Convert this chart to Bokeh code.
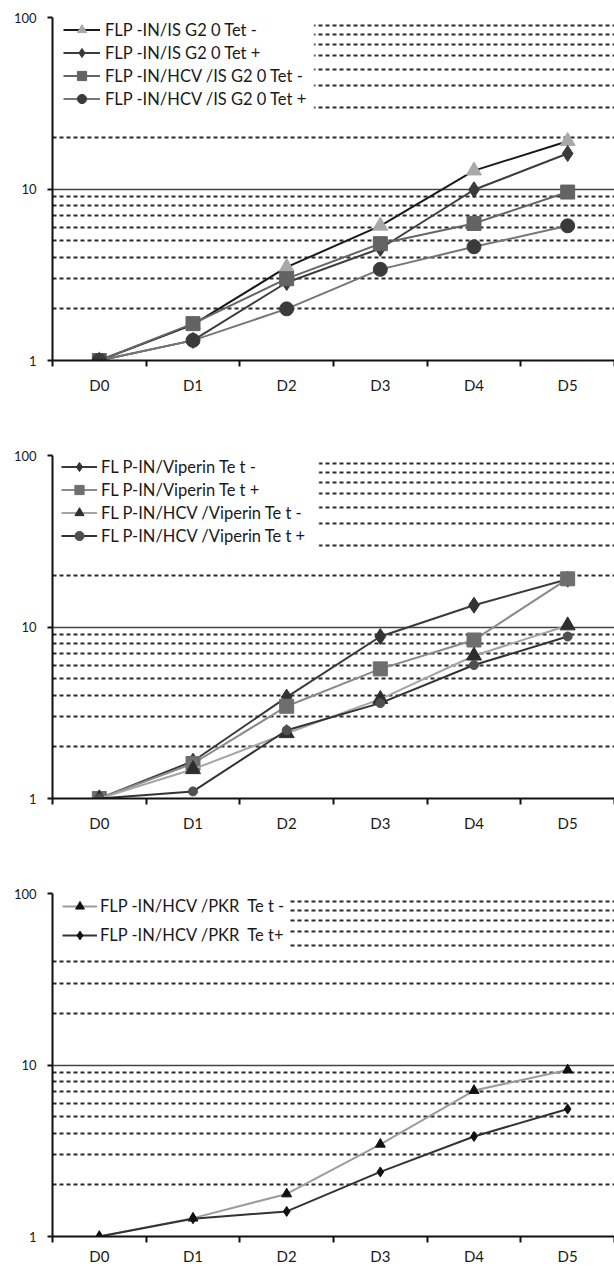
from bokeh.plotting import figure
from bokeh.models import Range1d, FixedTicker, PrintfTickFormatter, Legend, LegendItem, BoxAnnotation
from bokeh.layouts import column
from bokeh.core.properties import value
from bokeh.embed import file_html
from bokeh.resources import INLINE

# ---------------- data ----------------
days = ["D0", "D1", "D2", "D3", "D4", "D5"]
y_major = [1, 10, 100]

# panel 1 : ISG20
isg20_labels = ["FLP -IN/IS G2 0 Tet -", "FLP -IN/IS G2 0 Tet +",
                "FLP -IN/HCV /IS G2 0 Tet -", "FLP -IN/HCV /IS G2 0 Tet +"]
isg20_tet_minus = [1.0, 1.62, 3.5, 6.1, 12.8, 19.0]
isg20_tet_plus = [1.0, 1.31, 2.85, 4.5, 9.9, 16.1]
hcv_isg20_tet_minus = [1.0, 1.64, 3.0, 4.8, 6.3, 9.6]
hcv_isg20_tet_plus = [1.0, 1.31, 2.0, 3.4, 4.6, 6.1]

# panel 2 : Viperin
viperin_labels = ["FL P-IN/Viperin Te t -", "FL P-IN/Viperin Te t +",
                  "FL P-IN/HCV /Viperin Te t -", "FL P-IN/HCV /Viperin Te t +"]
viperin_tet_minus = [1.0, 1.65, 3.9, 8.8, 13.4, 19.0]
viperin_tet_plus = [1.0, 1.6, 3.45, 5.7, 8.4, 19.1]
hcv_viperin_tet_minus = [1.0, 1.48, 2.4, 3.8, 6.8, 10.2]
hcv_viperin_tet_plus = [1.0, 1.1, 2.5, 3.6, 6.0, 8.8]

# panel 3 : PKR
pkr_labels = ["FLP -IN/HCV /PKR  Te t -", "FLP -IN/HCV /PKR  Te t+"]
hcv_pkr_tet_minus = [1.0, 1.28, 1.77, 3.45, 7.1, 9.35]
hcv_pkr_tet_plus = [1.0, 1.27, 1.40, 2.38, 3.83, 5.54]

FONT = "Lato"
x_pos = [i + 0.5 for i in range(len(days))]
y_minor = [m * 10 ** e for e in (0, 1) for m in range(2, 10)]


def panel(series, height, top, bottom, xlab_standoff, leg, mask):
    p = figure(width=614, height=height, x_range=Range1d(0, len(days)), y_range=Range1d(1, 100),
               y_axis_type="log", output_backend="svg", toolbar_location=None,
               min_border_left=52, min_border_right=0, min_border_top=top, min_border_bottom=bottom)
    p.outline_line_color = None

    xt = FixedTicker(ticks=x_pos, minor_ticks=list(range(len(days) + 1)))
    p.xaxis.ticker = xt
    p.xaxis.major_label_overrides = {x: d for x, d in zip(x_pos, days)}
    p.xaxis.major_tick_line_color = None
    p.xaxis.major_tick_out = 0
    p.xaxis.major_tick_in = 0
    p.xaxis.minor_tick_line_color = "#111111"
    p.xaxis.minor_tick_line_width = 2
    p.xaxis.minor_tick_out = 6
    p.xaxis.minor_tick_in = 0
    p.xaxis.axis_line_width = 2
    p.xaxis.axis_line_color = "#111111"
    p.xaxis.major_label_text_font = FONT
    p.xaxis.major_label_text_font_size = "15px"
    p.xaxis.major_label_text_color = "#1a1a1a"
    p.xaxis.major_label_standoff = xlab_standoff
    p.xgrid.visible = False

    yt = FixedTicker(ticks=y_major, minor_ticks=y_minor)
    p.yaxis.ticker = yt
    p.ygrid.ticker = yt
    p.yaxis.formatter = PrintfTickFormatter(format="%d")
    p.yaxis.major_tick_out = 5
    p.yaxis.major_tick_in = 0
    p.yaxis.major_tick_line_width = 2
    p.yaxis.major_tick_line_color = "#111111"
    p.yaxis.minor_tick_line_color = None
    p.yaxis.axis_line_width = 2
    p.yaxis.axis_line_color = "#111111"
    p.yaxis.major_label_text_font = FONT
    p.yaxis.major_label_text_font_size = "13px"
    p.yaxis.major_label_text_color = "#1a1a1a"
    p.yaxis.major_label_standoff = 11

    p.ygrid.grid_line_color = "#444444"
    p.ygrid.grid_line_width = 1.3
    p.ygrid.minor_grid_line_color = "#2a2a2a"
    p.ygrid.minor_grid_line_width = 2
    p.ygrid.minor_grid_line_dash = "4 3"

    p.add_layout(BoxAnnotation(left=0, right=mask[0], top=100, bottom=mask[1],
                               fill_color="white", fill_alpha=1, line_color="white",
                               line_width=2, level="underlay"))

    items = []
    for label, vals, st in series:
        r1 = p.line(x_pos, vals, line_color=st["line"], line_width=2)
        r2 = p.scatter(x_pos, vals, marker=st["marker"], size=st["size"],
                       fill_color=st["fill"], line_color=st["fill"])
        items.append(LegendItem(label=value(label), renderers=[r1, r2]))

    lg = Legend(items=items, location=leg["loc"], padding=0, margin=0,
                spacing=leg["spacing"], glyph_width=leg["gw"], glyph_height=leg["gh"],
                label_height=leg["gh"], label_standoff=leg["standoff"],
                label_text_font=FONT, label_text_font_size="16.5px", label_text_color="#1a1a1a",
                background_fill_alpha=0, border_line_color=None)
    p.add_layout(lg)
    return p


s1 = [
    (isg20_labels[0], isg20_tet_minus, dict(line="#1a1a1a", fill="#a8a8a8", marker="triangle", size=15)),
    (isg20_labels[1], isg20_tet_plus, dict(line="#3d3d3d", fill="#3a3a3a", marker="diamond", size=16)),
    (isg20_labels[2], hcv_isg20_tet_minus, dict(line="#666666", fill="#636363", marker="square", size=14)),
    (isg20_labels[3], hcv_isg20_tet_plus, dict(line="#767676", fill="#3a3a3a", marker="circle", size=14)),
]
s2 = [
    (viperin_labels[0], viperin_tet_minus, dict(line="#3a3a3a", fill="#333333", marker="diamond", size=16)),
    (viperin_labels[1], viperin_tet_plus, dict(line="#8a8a8a", fill="#6e6e6e", marker="square", size=14)),
    (viperin_labels[2], hcv_viperin_tet_minus, dict(line="#a5a5a5", fill="#2e2e2e", marker="triangle", size=15)),
    (viperin_labels[3], hcv_viperin_tet_plus, dict(line="#333333", fill="#505050", marker="circle", size=9)),
]
s3 = [
    (pkr_labels[0], hcv_pkr_tet_minus, dict(line="#9c9c9c", fill="#111111", marker="triangle", size=10)),
    (pkr_labels[1], hcv_pkr_tet_plus, dict(line="#333333", fill="#111111", marker="diamond", size=10)),
]

p1 = panel(s1, 446, 17, 86, 9, dict(loc=(11, 250), spacing=0, gw=37, gh=23, standoff=5), (2.79, 25))
p2 = panel(s2, 438, 9, 86, 9, dict(loc=(9, 251), spacing=0, gw=36, gh=23, standoff=4), (2.84, 28))
p3 = panel(s3, 384, 9, 32, 4, dict(loc=(10, 290), spacing=7, gw=35, gh=22, standoff=3), (2.52, 45))

layout = column(p1, p2, p3)
open("out.html", "w").write(file_html(layout, INLINE))
